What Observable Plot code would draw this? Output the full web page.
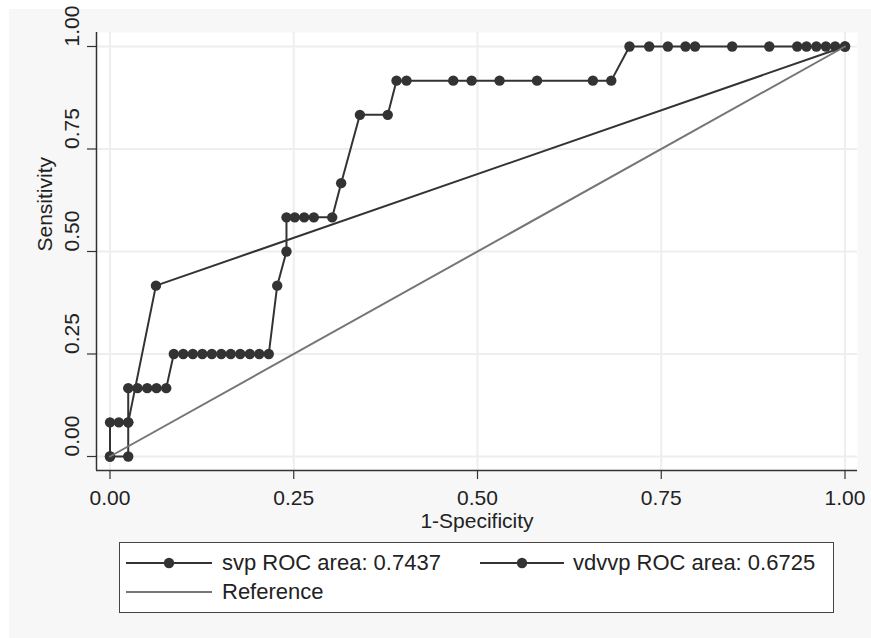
<!DOCTYPE html>
<html>
<head>
<meta charset="utf-8">
<script src="https://cdn.jsdelivr.net/npm/d3@7"></script>
<script src="https://cdn.jsdelivr.net/npm/@observablehq/plot@0.6"></script>
<style>
  html, body { margin: 0; padding: 0; background: #ffffff; }
  body { width: 871px; height: 638px; position: relative; overflow: hidden;
         font-family: "Liberation Sans", Arial, Helvetica, sans-serif; color: #222; }
  #panel { position: absolute; left: 9px; top: 9px; width: 862px; height: 629px; background: #f7f7f7; }
  #chart { position: absolute; left: 0; top: 0; }
  #legend { position: absolute; left: 110px; top: 533px; width: 715px; height: 71px;
            box-sizing: border-box; border: 1px solid #444; background: #ffffff; }
  .sw { position: absolute; }
  .lt { position: absolute; font-size: 22px; line-height: 24px; height: 24px; white-space: nowrap; color: #222; }
</style>
</head>
<body>
<div id="panel">
  <div id="chart"></div>
  <div id="legend"></div>
</div>
<script>
// ---- data ----
const svpX = [0, 0, 0.012, 0.0248, 0.0248, 0.0374, 0.0506, 0.0633, 0.0765,
  0.0868, 0.0997, 0.1127, 0.1256, 0.1385, 0.1514, 0.1643, 0.1772, 0.1902, 0.2031, 0.2160,
  0.2275, 0.2401, 0.2401, 0.2514, 0.2642, 0.2773, 0.3023, 0.3145, 0.3400, 0.3779,
  0.3898, 0.4034, 0.467, 0.492, 0.530, 0.581, 0.657, 0.682,
  0.7068, 0.7336, 0.759, 0.783, 0.796, 0.8465, 0.897, 0.935, 0.9476, 0.961, 0.974, 0.9866, 1.0];
const svpY = [0, 0.0833, 0.0833, 0.0833, 0.1667, 0.1667, 0.1667, 0.1667, 0.1667,
  0.25, 0.25, 0.25, 0.25, 0.25, 0.25, 0.25, 0.25, 0.25, 0.25, 0.25,
  0.4167, 0.5, 0.5833, 0.5833, 0.5833, 0.5833, 0.5833, 0.6667, 0.8333, 0.8333,
  0.9167, 0.9167, 0.9167, 0.9167, 0.9167, 0.9167, 0.9167, 0.9167,
  1, 1, 1, 1, 1, 1, 1, 1, 1, 1, 1, 1, 1];
const vdvvpX = [0, 0.0248, 0.0248, 0.0625, 1.0];
const vdvvpY = [0, 0, 0.0833, 0.4167, 1.0];
const refX = [0, 1];
const refY = [0, 1];
const xTicks = [0, 0.25, 0.5, 0.75, 1];
const yTicks = [0, 0.25, 0.5, 0.75, 1];
const xTitle = "1-Specificity";
const yTitle = "Sensitivity";
const seriesNames = ["svp ROC area: 0.7437", "vdvvp ROC area: 0.6725", "Reference"];

// ---- tables ----
const svp = svpX.map((x, i) => ({x, y: svpY[i]}));
const vdvvp = vdvvpX.map((x, i) => ({x, y: vdvvpY[i]}));
const ref = refX.map((x, i) => ({x, y: refY[i]}));

const dark = "#333333";
const grey = "#767676";
const fmt = d3.format(".2f");
const FONT = "'Liberation Sans', Arial, Helvetica, sans-serif";

const chart = Plot.plot({
  width: 862,
  height: 529,
  marginLeft: 87,
  marginTop: 23,
  marginRight: 14,
  marginBottom: 68,
  style: {background: "transparent", fontFamily: FONT, fontSize: "21px", color: "#222", overflow: "visible"},
  x: {domain: [-0.01837, 1.01701], axis: null},
  y: {domain: [-0.03415, 1.03415], axis: null},
  marks: [
    Plot.frame({fill: "#ffffff", stroke: "none"}),
    Plot.ruleX(xTicks, {x: d => d, stroke: "#eeeeee", strokeWidth: 2}),
    Plot.ruleY(yTicks, {y: d => d, stroke: "#eeeeee", strokeWidth: 2}),
    Plot.axisX({ticks: xTicks, tickSize: 9, tickFormat: () => "", label: null, stroke: dark, strokeWidth: 1.2}),
    Plot.axisY({ticks: yTicks, tickSize: 9, tickFormat: () => "", label: null, stroke: dark, strokeWidth: 1.2}),
    Plot.ruleX([-0.01837], {stroke: dark, strokeWidth: 1.5}),
    Plot.ruleY([-0.03415], {stroke: dark, strokeWidth: 1.5}),
    Plot.text(xTicks, {x: d => d, frameAnchor: "bottom", dy: 34, lineAnchor: "bottom", text: d => fmt(d), fontSize: 21, fill: "#222"}),
    Plot.text(yTicks, {y: d => d, frameAnchor: "left", dx: -18, rotate: -90, lineAnchor: "bottom", text: d => fmt(d), fontSize: 21, fill: "#222"}),
    Plot.text([xTitle], {frameAnchor: "bottom", dy: 57, lineAnchor: "bottom", text: d => d, fontSize: 21, fill: "#222"}),
    Plot.text([yTitle], {frameAnchor: "left", dx: -45, rotate: -90, lineAnchor: "bottom", text: d => d, fontSize: 21, fill: "#222"}),
    Plot.line(svp, {x: "x", y: "y", stroke: dark, strokeWidth: 2}),
    Plot.dot(svp, {x: "x", y: "y", r: 5.2, fill: dark, stroke: "none"}),
    Plot.line(vdvvp, {x: "x", y: "y", stroke: dark, strokeWidth: 2}),
    Plot.dot(vdvvp, {x: "x", y: "y", r: 5.2, fill: dark, stroke: "none"}),
    Plot.line(ref, {x: "x", y: "y", stroke: grey, strokeWidth: 2})
  ]
});
document.getElementById("chart").appendChild(chart);

// ---- legend ----
const legend = document.getElementById("legend");
function swatch(left, top, w, color, dot) {
  const ns = "http://www.w3.org/2000/svg";
  const s = document.createElementNS(ns, "svg");
  s.setAttribute("width", w); s.setAttribute("height", 14);
  s.setAttribute("class", "sw");
  s.style.left = left + "px"; s.style.top = top + "px";
  const l = document.createElementNS(ns, "line");
  l.setAttribute("x1", 0); l.setAttribute("x2", w); l.setAttribute("y1", 7); l.setAttribute("y2", 7);
  l.setAttribute("stroke", color); l.setAttribute("stroke-width", 2);
  s.appendChild(l);
  if (dot) {
    const c = document.createElementNS(ns, "circle");
    c.setAttribute("cx", w / 2); c.setAttribute("cy", 7); c.setAttribute("r", 5.2); c.setAttribute("fill", color);
    s.appendChild(c);
  }
  legend.appendChild(s);
}
function label(left, top, txt) {
  const d = document.createElement("div");
  d.className = "lt"; d.style.left = left + "px"; d.style.top = top + "px";
  d.textContent = txt;
  legend.appendChild(d);
}
swatch(6, 13, 86, dark, true);
label(102, 8, seriesNames[0]);
swatch(360, 13, 84, dark, true);
label(453, 8, seriesNames[1]);
swatch(6, 42, 86, grey, false);
label(102, 37, seriesNames[2]);
</script>
</body>
</html>
